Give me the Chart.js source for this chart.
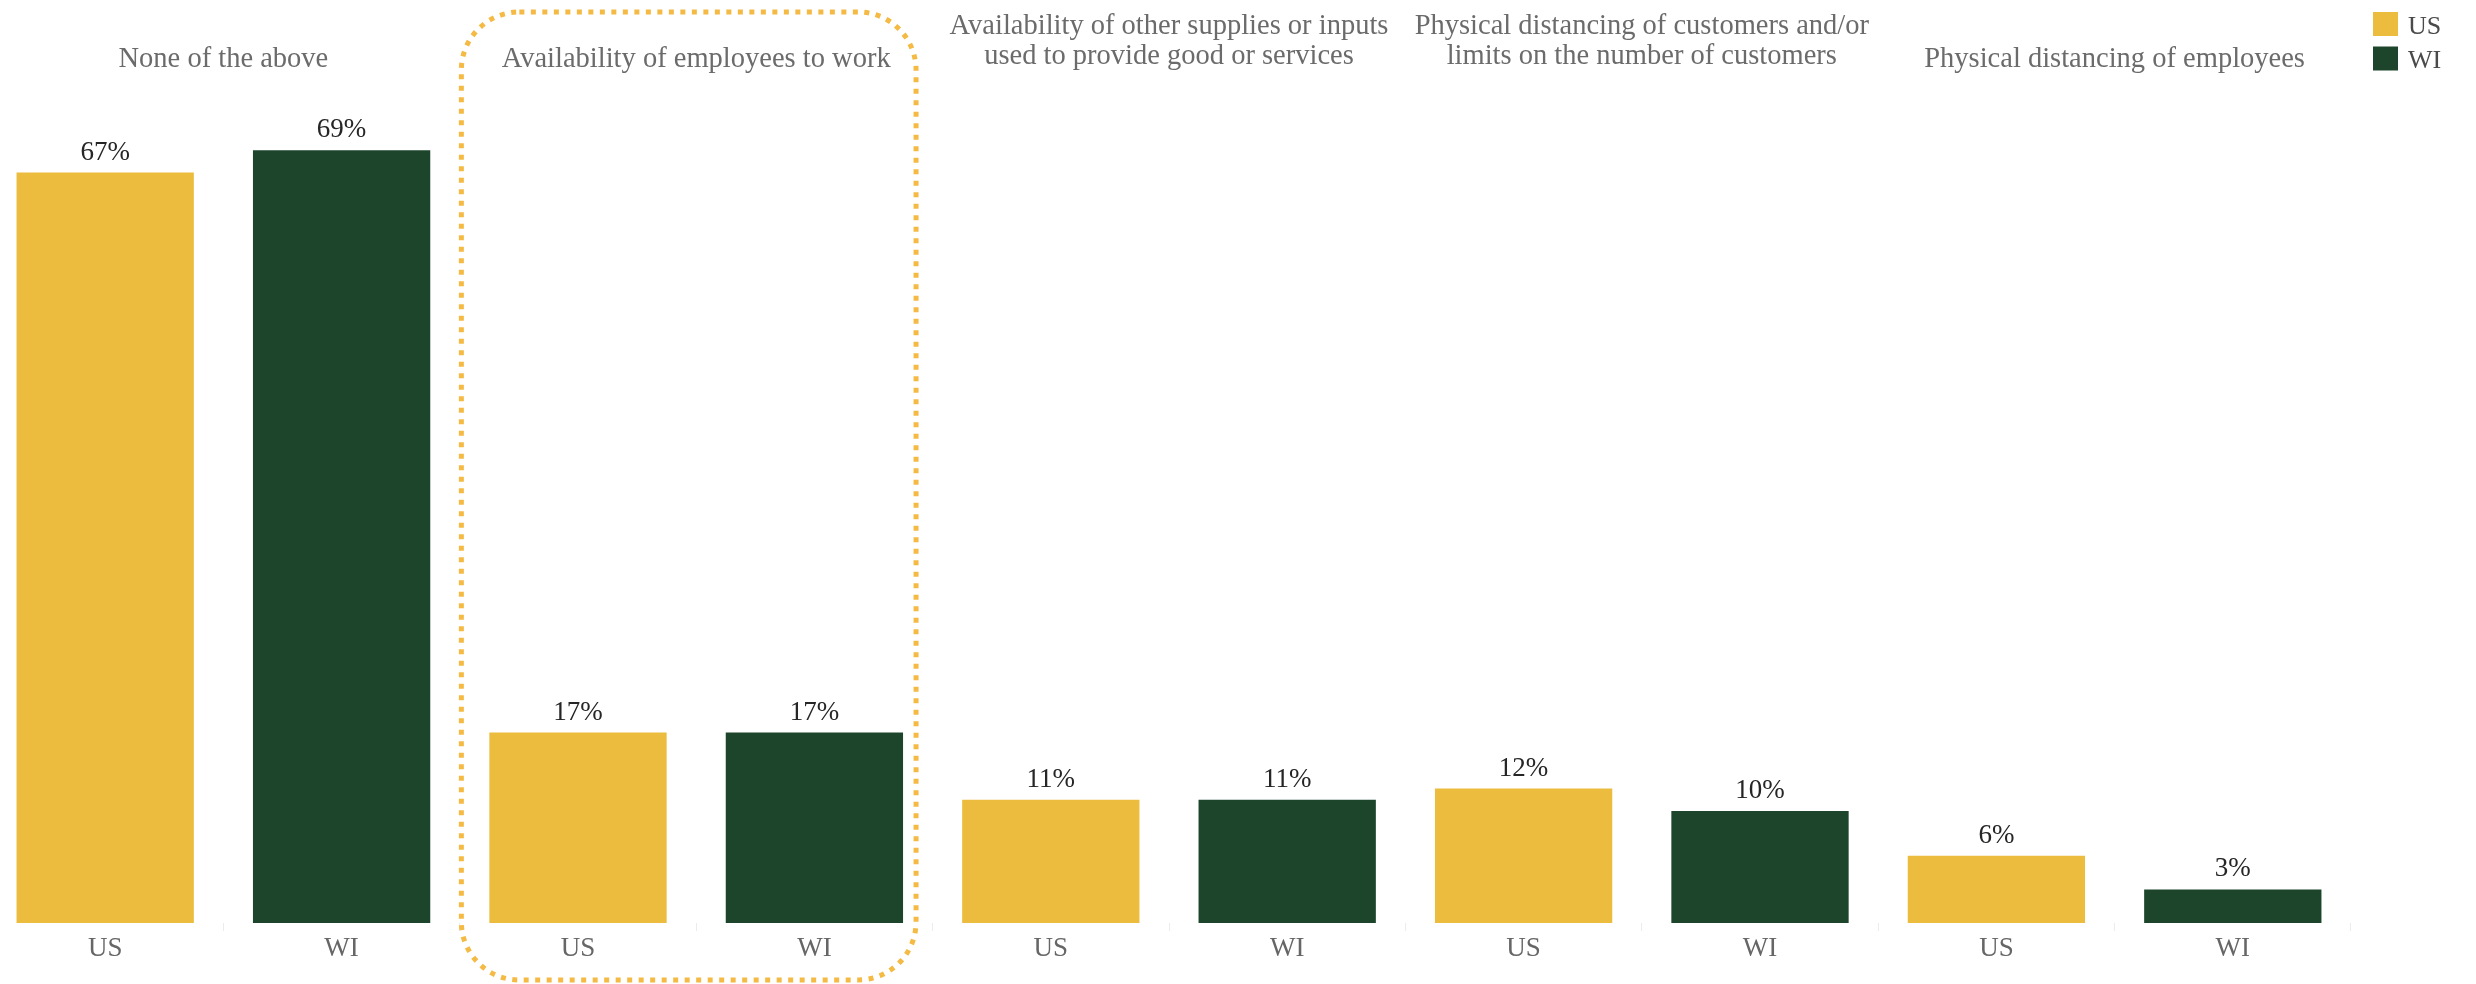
<!DOCTYPE html>
<html lang="en">
<head>
  <meta charset="UTF-8" />
  <title>Operations affected – US vs WI</title>
  <style>
    html, body { margin: 0; padding: 0; background: #fff; overflow: hidden; }
    #wrap { position: absolute; left: -13px; top: 0; width: 2489px; height: 984px; }
  </style>
  <script src="https://cdn.jsdelivr.net/npm/chart.js"></script>
</head>
<body>
  <div id="wrap"><canvas id="chart"></canvas></div>

  <script>
    // survey answers, one pair of bars per answer
    const groups = [
      ['None of the above'],
      ['Availability of employees to work'],
      ['Availability of other supplies or inputs', 'used to provide good or services'],
      ['Physical distancing of customers and/or', 'limits on the number of customers'],
      ['Physical distancing of employees']
    ];
    const seriesNames = ['US', 'WI'];
    const usValues = [67, 17, 11, 12, 6];
    const wiValues = [69, 17, 11, 10, 3];
    const highlightGroup = 1;

    const yellow = '#EBBC3D';
    const green = '#1C452C';
    const FONT = '"Liberation Serif", "Times New Roman", serif';

    // flatten into US/WI slots, each series only fills its own slots
    const labels = [];
    const usData = [];
    const wiData = [];
    groups.forEach((g, i) => {
      labels.push(seriesNames[0], seriesNames[1]);
      usData.push(usValues[i], null);
      wiData.push(null, wiValues[i]);
    });

    const valueLabels = {
      id: 'valueLabels',
      afterDatasetsDraw(chart) {
        const ctx = chart.ctx;
        ctx.save();
        ctx.font = '27px ' + FONT;
        ctx.fillStyle = '#262626';
        ctx.textAlign = 'center';
        ctx.textBaseline = 'alphabetic';
        chart.data.datasets.forEach((ds, di) => {
          chart.getDatasetMeta(di).data.forEach((bar, i) => {
            const v = ds.data[i];
            if (v == null) return;
            ctx.fillText(v + '%', bar.x, bar.y - 13);
          });
        });
        ctx.restore();
      }
    };

    const groupTitles = {
      id: 'groupTitles',
      afterDraw(chart) {
        const ctx = chart.ctx;
        const x = chart.scales.x;
        ctx.save();
        ctx.font = '28.5px ' + FONT;
        ctx.fillStyle = '#6b6b6b';
        ctx.textAlign = 'center';
        ctx.textBaseline = 'alphabetic';
        groups.forEach((lines, i) => {
          const cx = (x.getPixelForValue(i * 2) + x.getPixelForValue(i * 2 + 1)) / 2;
          const bottom = lines.length > 1 ? 64 : 67;
          lines.forEach((t, k) => {
            ctx.fillText(t, cx, bottom - (lines.length - 1 - k) * 30);
          });
        });
        ctx.restore();
      }
    };

    // dotted rounded frame around the highlighted answer
    const highlightFrame = {
      id: 'highlightFrame',
      afterDraw(chart) {
        const ctx = chart.ctx;
        const metaUS = chart.getDatasetMeta(0).data[highlightGroup * 2];
        const metaWI = chart.getDatasetMeta(1).data[highlightGroup * 2 + 1];
        const left = metaUS.x - metaUS.width / 2 - 28;
        const right = metaWI.x + metaWI.width / 2 + 13;
        const top = 12, bottom = 980, r = 58;
        ctx.save();
        ctx.strokeStyle = '#F4BA44';
        ctx.lineWidth = 5;
        ctx.setLineDash([5, 6.5]);
        ctx.beginPath();
        ctx.roundRect(left, top, right - left, bottom - top, r);
        ctx.stroke();
        ctx.restore();
      }
    };

    const sideLegend = {
      id: 'sideLegend',
      afterDraw(chart) {
        const ctx = chart.ctx;
        ctx.save();
        ctx.font = '26px ' + FONT;
        ctx.textAlign = 'left';
        ctx.textBaseline = 'alphabetic';
        chart.data.datasets.forEach((ds, i) => {
          const y = 12 + i * 34.5;
          ctx.fillStyle = ds.backgroundColor;
          ctx.fillRect(2386, y, 25, 24);
          ctx.fillStyle = '#4a4a4a';
          ctx.fillText(ds.label, 2421, y + 21.5);
        });
        ctx.restore();
      }
    };

    new Chart(document.getElementById('chart'), {
      type: 'bar',
      data: {
        labels: labels,
        datasets: [
          { label: seriesNames[0], data: usData, backgroundColor: yellow },
          { label: seriesNames[1], data: wiData, backgroundColor: green }
        ]
      },
      options: {
        responsive: true,
        maintainAspectRatio: false,
        animation: false,
        skipNull: true,
        barPercentage: 0.75,
        categoryPercentage: 1,
        layout: { padding: { top: 27, right: 125, left: 0, bottom: 0 } },
        plugins: {
          legend: { display: false },
          tooltip: { enabled: false }
        },
        scales: {
          x: {
            offset: true,
            border: { display: false },
            grid: {
              offset: true,
              drawOnChartArea: false,
              drawTicks: true,
              tickLength: 8,
              color: '#ececec'
            },
            ticks: {
              padding: 2,
              color: '#666',
              font: { family: FONT, size: 27 }
            },
            afterFit(scale) { scale.height = 61; }
          },
          y: {
            display: false,
            min: 0,
            max: 80
          }
        }
      },
      plugins: [valueLabels, groupTitles, highlightFrame, sideLegend]
    });
  </script>
</body>
</html>
